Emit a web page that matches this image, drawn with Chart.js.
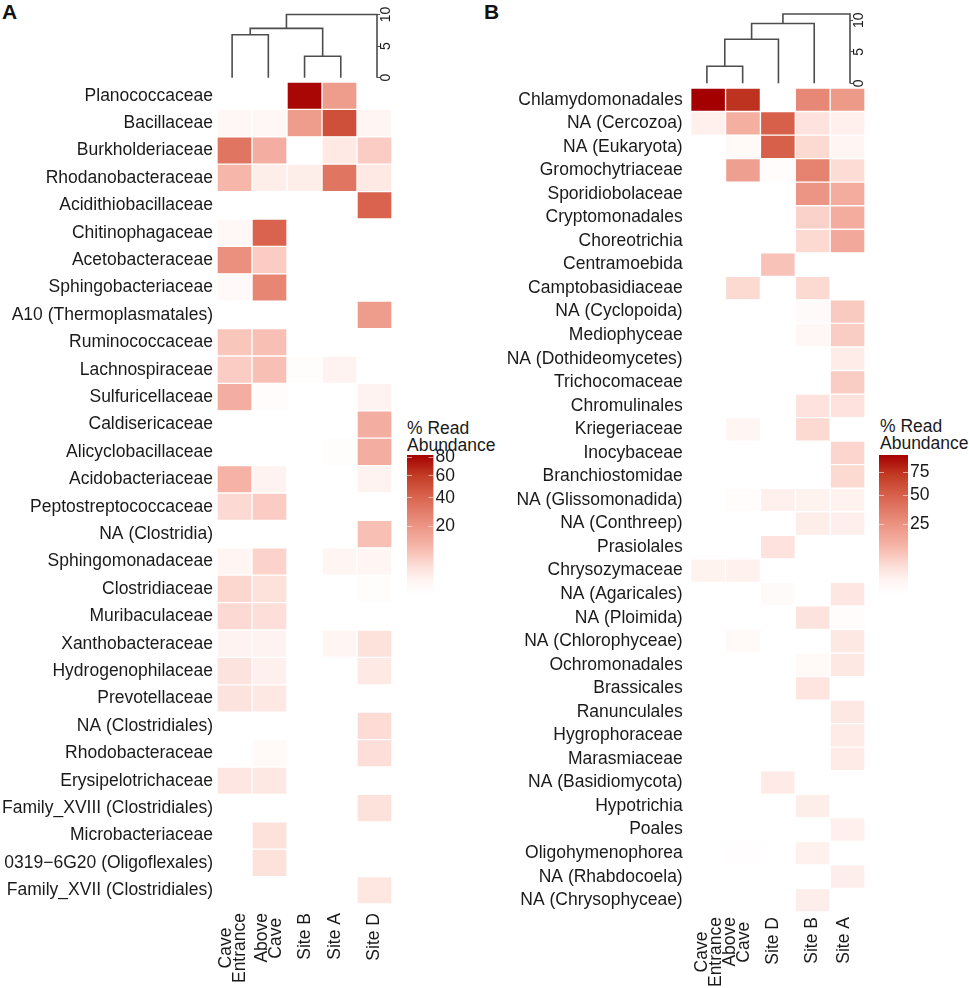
<!DOCTYPE html>
<html>
<head>
<meta charset="utf-8">
<title>Read abundance heatmaps</title>
<script src="https://cdn.jsdelivr.net/npm/chart.js@4/dist/chart.umd.min.js"></script>
<style>
  body { margin: 0; background: #fff; }
  #page { position: relative; width: 969px; height: 988px; overflow: hidden; font-family: "Liberation Sans", Arial, sans-serif; color: #1a1a1a; }
  canvas { position: absolute; }
  .letter { position: absolute; font-size: 21px; font-weight: bold; line-height: 21px; color: #111; }
  .legend-title { position: absolute; font-size: 17.5px; line-height: 17px; white-space: nowrap; }
</style>
</head>
<body>
<div id="page">
  <div class="letter" style="left:2px;top:1px">A</div>
  <div class="letter" style="left:484px;top:1px">B</div>
  <div class="legend-title" style="left:407px;top:420px">% Read<br>Abundance</div>
  <div class="legend-title" style="left:880px;top:418px">% Read<br>Abundance</div>

  <canvas id="heatA" width="392" height="906" style="left:0;top:82px"></canvas>
  <canvas id="treeA" width="187" height="84" style="left:214px;top:0"></canvas>
  <canvas id="legendA" width="62" height="155" style="left:407px;top:445px"></canvas>

  <canvas id="heatB" width="365" height="900" style="left:500px;top:88px"></canvas>
  <canvas id="treeB" width="185" height="90" style="left:689px;top:0"></canvas>
  <canvas id="legendB" width="62" height="155" style="left:879px;top:445px"></canvas>
</div>

<script>
// ---------- PANEL A ----------
const rowsA = ["Planococcaceae", "Bacillaceae", "Burkholderiaceae", "Rhodanobacteraceae", "Acidithiobacillaceae",
  "Chitinophagaceae", "Acetobacteraceae", "Sphingobacteriaceae", "A10 (Thermoplasmatales)", "Ruminococcaceae",
  "Lachnospiraceae", "Sulfuricellaceae", "Caldisericaceae", "Alicyclobacillaceae", "Acidobacteriaceae",
  "Peptostreptococcaceae", "NA (Clostridia)", "Sphingomonadaceae", "Clostridiaceae", "Muribaculaceae",
  "Xanthobacteraceae", "Hydrogenophilaceae", "Prevotellaceae", "NA (Clostridiales)", "Rhodobacteraceae",
  "Erysipelotrichaceae", "Family_XVIII (Clostridiales)", "Microbacteriaceae", "0319\u22126G20 (Oligoflexales)", "Family_XVII (Clostridiales)"];
const columnsA = [["Cave\u00a0\u00a0\u00a0", "Entrance"], ["Above", "Cave\u00a0"], "Site B", "Site A", "Site D"];

const caveEntranceA = [0, 0.5, 33, 10, 0, 0.4, 22, 0.2, 0, 7, 6, 12, 0, 0, 11, 4, 0, 0.7, 4.5, 4, 1, 2.8, 2.8, 0, 0, 2.3, 0, 0, 0, 0];
const aboveCaveA = [0, 0.5, 12, 1.5, 0, 41, 6, 26, 0, 8, 8, 0.1, 0, 0, 1, 6, 0, 5, 3, 3.5, 1, 1.3, 2.2, 0, 0.3, 2.2, 0, 3, 3, 0];
const siteBA = [80, 18, 0, 1.5, 0, 0, 0, 0, 0, 0, 0.05, 0, 0, 0, 0, 0, 0, 0, 0, 0, 0, 0, 0, 0, 0, 0, 0, 0, 0, 0];
const siteAA = [18, 50, 2, 33, 0, 0, 0, 0, 0, 0, 1, 0, 0, 0.05, 0, 0, 0, 0.7, 0, 0, 0.7, 0, 0, 0, 0, 0, 0, 0, 0, 0];
const siteDA = [0, 0.7, 6, 2, 41, 0, 0, 0, 18, 0, 0, 1, 12, 12, 1, 0, 8, 0.7, 0.05, 0, 3, 2, 0, 3.8, 3.5, 0, 3, 0, 0, 2.5];

const legendTicksA = [20, 40, 60, 80];
const legendMaxA = 83;

const treeALeft = [1, 3, 1.5, 2.5];
const treeALeftHeight = [0, 0, 6.8, 7.8];
const treeARight = [2, 4, 3.5, 5];
const treeARightHeight = [0, 0, 3.4, 0];
const treeAMerge = [6.8, 3.4, 7.8, 10];

// ---------- PANEL B ----------
const rowsB = ["Chlamydomonadales", "NA (Cercozoa)", "NA (Eukaryota)", "Gromochytriaceae", "Sporidiobolaceae",
  "Cryptomonadales", "Choreotrichia", "Centramoebida", "Camptobasidiaceae", "NA (Cyclopoida)",
  "Mediophyceae", "NA (Dothideomycetes)", "Trichocomaceae", "Chromulinales", "Kriegeriaceae",
  "Inocybaceae", "Branchiostomidae", "NA (Glissomonadida)", "NA (Conthreep)", "Prasiolales",
  "Chrysozymaceae", "NA (Agaricales)", "NA (Ploimida)", "NA (Chlorophyceae)", "Ochromonadales",
  "Brassicales", "Ranunculales", "Hygrophoraceae", "Marasmiaceae", "NA (Basidiomycota)",
  "Hypotrichia", "Poales", "Oligohymenophorea", "NA (Rhabdocoela)", "NA (Chrysophyceae)"];
const columnsB = [["Cave\u00a0\u00a0\u00a0", "Entrance"], ["Above", "Cave\u00a0"], "Site D", "Site B", "Site A"];

const caveEntranceB = [98, 1.5, 0, 0, 0, 0, 0, 0, 0, 0, 0, 0, 0, 0, 0, 0, 0, 0, 0, 0, 1.2, 0, 0, 0, 0, 0, 0, 0, 0, 0, 0, 0, 0, 0, 0];
const aboveCaveB = [75, 14, 0.4, 20, 0, 0, 0, 0, 5, 0, 0, 0, 0, 0, 1, 0, 0, 0.1, 0, 0, 1.4, 0, 0, 0.4, 0, 0, 0, 0, 0, 0, 0, 0, 0.03, 0, 0];
const siteDB = [0, 50, 50, 0.1, 0, 0, 0, 9, 0, 0, 0, 0, 0, 0, 0, 0, 0, 1.5, 0, 3.5, 0, 0.2, 0, 0, 0, 0, 0, 0, 0, 2.2, 0, 0, 0, 0, 0];
const siteBB = [30, 3.5, 5, 32, 24, 6, 5, 0, 5, 0.2, 0.7, 0, 0, 3.5, 5, 0, 0, 1.2, 1.8, 0, 0, 0, 3.3, 0, 0.4, 3, 0, 0, 0, 0, 1.8, 0, 1.4, 0, 1.7];
const siteAB = [22, 1.5, 1, 4.5, 15, 15, 16, 0, 0, 7.5, 7, 2, 7, 3.5, 0, 5.5, 5, 1.3, 1.6, 0, 0, 2.7, 0.1, 2.5, 2.5, 0, 2.5, 2.3, 2.2, 0, 0, 1.5, 0, 1.7, 0];

const legendTicksB = [25, 50, 75];
const legendMaxB = 98;

const treeBLeft = [1, 1.5, 2.25, 3.125];
const treeBLeftHeight = [0, 2.7, 7, 9.5];
const treeBRight = [2, 3, 4, 5];
const treeBRightHeight = [0, 0, 0, 0];
const treeBMerge = [2.7, 7, 9.5, 11];

// colour ramp, position on the sqrt scale -> colour
const rampStops = [0, 0.1, 0.2, 0.35, 0.5, 0.7, 0.85, 1];
const rampColors = ["#ffffff", "#fff5f3", "#fde0da", "#f6b5a8", "#ec9483", "#d9644f", "#c33d26", "#a50000"];

const fontFamily = "'Liberation Sans', Arial, sans-serif";
const textColor = "#1a1a1a";

function hexToRgb(hex) {
  return [1, 3, 5].map(i => parseInt(hex.substr(i, 2), 16));
}

function rampColor(t) {
  t = Math.min(1, Math.max(0, t));
  let i = 0;
  while (i < rampStops.length - 2 && t > rampStops[i + 1]) i++;
  const f = (t - rampStops[i]) / (rampStops[i + 1] - rampStops[i]);
  const a = hexToRgb(rampColors[i]);
  const b = hexToRgb(rampColors[i + 1]);
  const c = a.map((v, k) => Math.round(v + (b[k] - v) * f));
  return `rgb(${c[0]},${c[1]},${c[2]})`;
}

// the labels must not eat into the plot area, it has to line up with the tree
function noAutoPadding(scale) {
  scale.paddingTop = 0;
  scale.paddingBottom = 0;
  scale.paddingLeft = 0;
  scale.paddingRight = 0;
}

// ---------- HEATMAP ----------
function drawHeatmap(id, rows, columns, series, maxValue, opts) {
  new Chart(document.getElementById(id), {
    type: 'bar',
    data: {
      labels: rows,
      datasets: series.map((values, col) => ({
        label: String(columns[col]),
        data: values.map(() => [col, col + 1]),
        backgroundColor: values.map(v => rampColor(Math.sqrt(v / maxValue))),
        borderColor: '#fff',
        borderWidth: 1,
        borderSkipped: false,
        grouped: false,
        barPercentage: 1,
        categoryPercentage: 1
      }))
    },
    options: {
      indexAxis: 'y',
      responsive: false,
      animation: false,
      plugins: { legend: { display: false }, tooltip: { enabled: false } },
      scales: {
        x: {
          type: 'linear', min: 0, max: series.length,
          grid: { display: false, drawTicks: false }, border: { display: false },
          afterBuildTicks: scale => { scale.ticks = opts.labelAt.map(value => ({ value })); },
          afterFit: scale => { scale.height = opts.bottom; noAutoPadding(scale); },
          ticks: {
            autoSkip: false, minRotation: 90, maxRotation: 90, padding: opts.labelGap,
            color: textColor,
            font: { family: fontFamily, size: 17.5, lineHeight: 0.83 },
            callback: (val, i) => columns[i]
          }
        },
        y: {
          grid: { display: false, drawTicks: false }, border: { display: false },
          afterFit: scale => { scale.width = opts.left; noAutoPadding(scale); },
          ticks: {
            autoSkip: false, padding: opts.rowGap, color: textColor,
            font: { family: fontFamily, size: 17.5 }
          }
        }
      }
    }
  });
}

// ---------- DENDROGRAM ----------
function drawTree(id, left, leftH, right, rightH, merge, maxH, pad) {
  new Chart(document.getElementById(id), {
    type: 'scatter',
    data: {
      datasets: merge.map((h, i) => ({
        data: [
          { x: left[i], y: leftH[i] }, { x: left[i], y: h },
          { x: right[i], y: h }, { x: right[i], y: rightH[i] }
        ],
        showLine: true,
        clip: false,
        borderColor: '#4d4d4d',
        borderWidth: 1.6,
        pointRadius: 0
      }))
    },
    options: {
      responsive: false,
      animation: false,
      layout: { padding: pad },
      plugins: { legend: { display: false }, tooltip: { enabled: false } },
      scales: {
        x: { type: 'linear', display: false, min: 0.5, max: 5 },
        y: {
          type: 'linear', position: 'right', min: 0, max: maxH,
          grid: { drawOnChartArea: false, tickLength: 3, color: '#4d4d4d' },
          border: { display: false },
          afterFit: scale => { scale.width = 24; noAutoPadding(scale); },
          ticks: {
            stepSize: 5, includeBounds: false, minRotation: 90, crossAlign: 'center', padding: -2,
            color: textColor,
            font: { family: fontFamily, size: 14 }
          }
        }
      }
    }
  });
}

// ---------- COLOUR BAR ----------
function drawLegend(id, ticks, maxValue, barWidth) {
  const gap = barWidth - 10;
  new Chart(document.getElementById(id), {
    type: 'bar',
    data: {
      labels: ['% Read Abundance'],
      datasets: [{
        data: [[0, Math.sqrt(maxValue)]],
        barPercentage: 1,
        categoryPercentage: 1,
        borderWidth: 0,
        backgroundColor: ctx => {
          const area = ctx.chart.chartArea;
          if (!area) return '#fff';
          const g = ctx.chart.ctx.createLinearGradient(0, area.bottom, 0, area.top);
          rampStops.forEach((s, i) => g.addColorStop(s, rampColors[i]));
          return g;
        }
      }]
    },
    options: {
      responsive: false,
      animation: false,
      layout: { padding: { top: 10, bottom: 5 } },
      plugins: { legend: { display: false }, tooltip: { enabled: false } },
      scales: {
        x: { display: false },
        y: {
          type: 'linear', position: 'right', min: 0, max: Math.sqrt(maxValue),
          grid: { z: 1, drawTicks: false, color: 'rgba(255,255,255,0.55)', lineWidth: 1 },
          border: { display: false, dash: [5, gap] },
          afterBuildTicks: scale => { scale.ticks = ticks.map(v => ({ value: Math.sqrt(v) })); },
          afterFit: scale => { scale.width = 62 - barWidth; noAutoPadding(scale); },
          ticks: {
            padding: 2, color: textColor,
            font: { family: fontFamily, size: 17.5 },
            callback: val => String(Math.round(val * val))
          }
        }
      }
    }
  });
}

window.addEventListener('DOMContentLoaded', () => {
  drawHeatmap('heatA', rowsA, columnsA, [caveEntranceA, aboveCaveA, siteBA, siteAA, siteDA], legendMaxA,
    { left: 217, bottom: 84, rowGap: 4, labelGap: 9, labelAt: [0.25, 1.28, 2.51, 3.37, 4.5] });
  drawHeatmap('heatB', rowsB, columnsB, [caveEntranceB, aboveCaveB, siteDB, siteBB, siteAB], legendMaxB,
    { left: 190.7, bottom: 76, rowGap: 8, labelGap: 5, labelAt: [0.315, 1.12, 2.38, 3.48, 4.41] });

  drawTree('treeA', treeALeft, treeALeftHeight, treeARight, treeARightHeight, treeAMerge, 10, { top: 14.5, bottom: 6.3 });
  drawTree('treeB', treeBLeft, treeBLeftHeight, treeBRight, treeBRightHeight, treeBMerge, 11, { top: 14, bottom: 6.7 });

  drawLegend('legendA', legendTicksA, legendMaxA, 26.5);
  drawLegend('legendB', legendTicksB, legendMaxB, 29);
});
</script>
</body>
</html>
